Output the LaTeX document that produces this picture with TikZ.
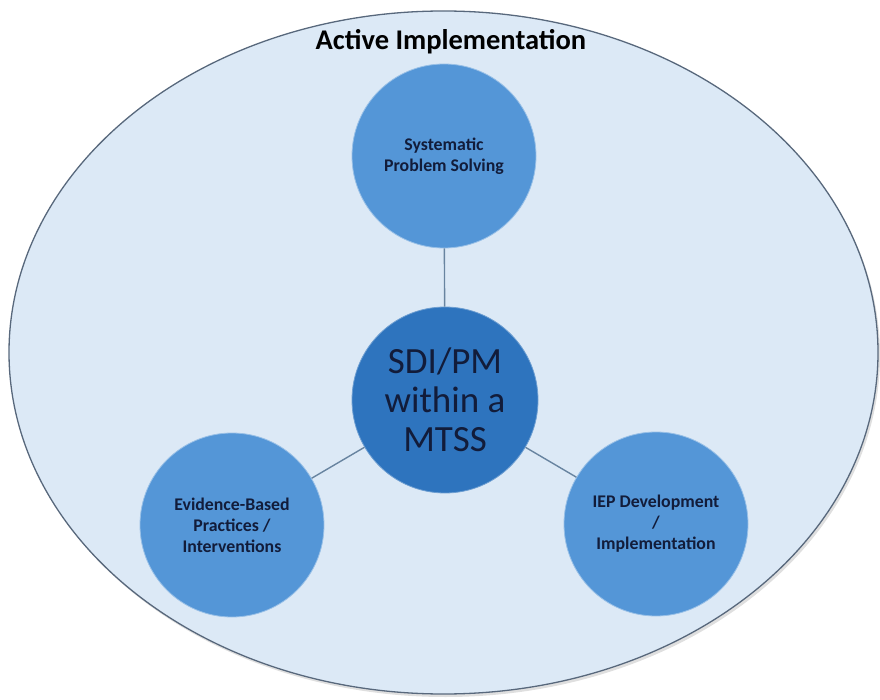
\documentclass[tikz,border=0pt]{standalone}
\usepackage{fontspec}
\setmainfont{Carlito}
\usetikzlibrary{shadows}
\definecolor{fieldfill}{RGB}{220,233,246}
\definecolor{fieldline}{RGB}{88,104,124}
\definecolor{hubfill}{RGB}{46,116,190}
\definecolor{petalfill}{RGB}{84,150,215}
\definecolor{linkcol}{RGB}{104,132,160}
\definecolor{inkcol}{RGB}{18,28,58}
\begin{document}
\begin{tikzpicture}[x=1pt,y=-1pt,
  field/.style={draw=fieldline, line width=1.3pt, fill=fieldfill,
    drop shadow={shadow xshift=2pt, shadow yshift=-3pt, opacity=0.25}},
  hub/.style={circle, fill=hubfill, draw=hubfill!70!white, line width=0.8pt,
    minimum size=186pt, inner sep=0pt, text=inkcol, align=center,
    font=\fontsize{37}{39}\selectfont},
  petal/.style={circle, fill=petalfill, draw=petalfill!60!white, line width=0.8pt,
    minimum size=184pt, inner sep=0pt, text=inkcol, align=center,
    font=\bfseries\fontsize{17.8}{21}\selectfont},
  link/.style={draw=linkcol, line width=1.4pt}]
\useasboundingbox (0,0) rectangle (880,700);
% surrounding field
\path[field] (443.5,352.5) ellipse [x radius=434.5, y radius=341.5];
\node[text=black, anchor=base, font=\bfseries\fontsize{28.5}{30}\selectfont] (title) at (451,50) {Active Implementation};
% circles
\node[hub] (hub) at (445,400) {SDI/PM\\within a\\MTSS};
\node[petal] (top) at (444,156) {Systematic\\Problem Solving};
\node[petal] (left) at (232,525) {Evidence-Based\\Practices /\\Interventions};
\node[petal] (right) at (656,524) {IEP Development\\/\\Implementation};
% connectors
\path[link] (hub) -- (top);
\path[link] (hub) -- (left);
\path[link] (hub) -- (right);
\end{tikzpicture}
\end{document}
